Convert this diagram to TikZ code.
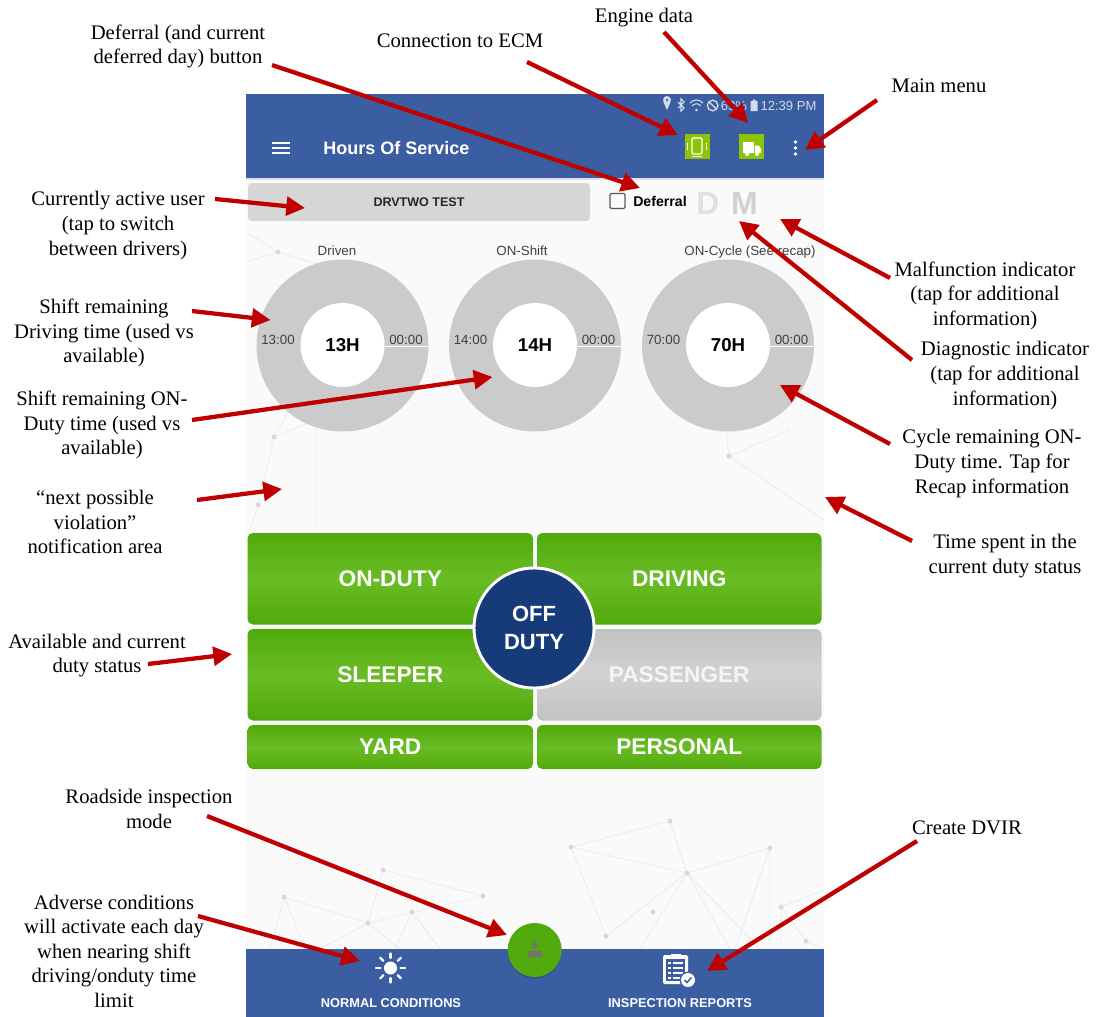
\documentclass[tikz,border=0pt]{standalone}
\usepackage{fontspec}
\setmainfont{Liberation Serif}
\newfontfamily\uifont{Liberation Sans}
\usetikzlibrary{arrows.meta}
\definecolor{barblue}{HTML}{3B5EA3}
\definecolor{navy}{HTML}{173B78}
\definecolor{screenbg}{HTML}{FAFAFA}
\definecolor{arrowred}{HTML}{C00000}
\definecolor{ringgray}{HTML}{CBCBCB}
\definecolor{greenedge}{HTML}{50AA0C}
\definecolor{greenmid}{HTML}{6ABC24}
\definecolor{grayedge}{HTML}{C2C2C2}
\definecolor{graymid}{HTML}{D2D2D2}
\definecolor{iconGreen}{HTML}{8DC408}
\definecolor{netline}{HTML}{E8ECEF}
\definecolor{netdot}{HTML}{D3DBE0}
\definecolor{statustext}{HTML}{D3DAE8}
\newcommand{\pxbox}[7]{% name, x1,y1,x2,y2, style, text
  \node[#6, minimum width={(#4-#2)*0.75pt}, minimum height={(#5-#3)*0.75pt}] (#1) at ({(#2+#4)/2},{(#3+#5)/2}) {#7};}
\tikzset{
  x=0.75pt, y=-0.75pt,
  note/.style={font=\fontsize{15.5}{18.4}\selectfont, align=center, inner sep=0pt, text=black, yshift=-0.75pt},
  callout/.style={draw=arrowred, line width=3.2pt, -{Triangle[length=14pt,width=14pt]}},
  greenbtn/.style={rectangle, rounded corners=4pt, inner sep=0pt, top color=greenedge, bottom color=greenedge, middle color=greenmid, text=white},
  graybtn/.style={rectangle, rounded corners=4pt, inner sep=0pt, top color=grayedge, bottom color=grayedge, middle color=graymid, text=white!92!gray},
  btnfont/.style={font=\uifont\bfseries\fontsize{17}{19}\selectfont},
  ring/.style={circle, fill=ringgray, inner sep=0pt, minimum size=129pt},
  hole/.style={circle, fill=white, inner sep=0pt, minimum size=63pt, font=\uifont\bfseries\fontsize{14}{16}\selectfont},
  gaugetext/.style={inner sep=0pt, text=black!75, font=\uifont\fontsize{10}{12}\selectfont},
  bartext/.style={inner sep=0pt, text=white, font=\uifont\bfseries\fontsize{9.6}{12}\selectfont},
  net/.style={draw=netline, line width=0.6pt},
  netpt/.style={fill=netdot},
  iconsq/.style={rectangle, fill=iconGreen, inner sep=0pt},
}
\begin{document}
\begin{tikzpicture}
\useasboundingbox (0,0) rectangle (1108,1017);
\fill[white] (0,0) rectangle (1108,1017);
% screen
\fill[screenbg] (246,94) rectangle (824,1017);
% faint network background
\draw[net] (571,847)--(670,821)--(687,873)--(571,847)--(606,936) (687,873)--(770,848)--(770,949) (687,873)--(606,936) (687,873)--(640,949) (687,873)--(730,949) (687,873)--(760,949) (770,848)--(735,949) (781,907)--(806,941)--(824,949) (781,907)--(824,890) (781,907)--(781,949);
\draw[net] (383,870)--(483,896)--(368,923)--(284,897)--(270,949) (284,897)--(305,949) (383,870)--(368,923)--(320,949) (368,923)--(400,949) (412,912)--(440,949) (412,912)--(395,949);
\draw[net] (246,262)--(278,252)--(246,232) (278,252)--(330,268) (274,437)--(258,505)--(250,530) (274,437)--(316,420) (316,420)--(316,530) (274,437)--(300,390);
\draw[net] (712,310)--(729,456) (729,456)--(790,430) (729,456)--(824,520) (790,270)--(824,225) (712,310)--(760,360);
\foreach \px/\py in {571/847,670/821,687/873,770/848,606/936,653/912,781/907,806/941,383/870,483/896,284/897,368/923,412/912,278/252,274/437,258/505,729/456,712/310}
  \fill[netpt] (\px,\py) circle[radius=2.5];
% top bar
\fill[barblue] (246,94) rectangle (824,178);
\fill[black!12] (246,178) rectangle (824,180);
% status bar icons
\fill[statustext,even odd rule] (667,100) circle[radius=4] (667,100) circle[radius=1.5];
\fill[statustext] (663.4,102) -- (667,110) -- (670.6,102) -- cycle;
\draw[statustext,line width=0.8pt] (678,102)--(684,108)--(681,111)--(681,99)--(684,102)--(678,108);
\draw[statustext,line width=0.8pt] (690,103) .. controls (694,99) and (699,99) .. (703,103) (692,106) .. controls (695,103) and (698,103) .. (701,106);
\fill[statustext] (696.5,110) circle[radius=1.4];
\draw[statustext,line width=1pt] (712.7,105.5) circle[radius=5.3] (709,102)--(716.5,109);
\node[inner sep=0pt,text=statustext,font=\uifont\fontsize{9.8}{12}\selectfont] (statuspct) at (734,106) {63\%};
\fill[statustext] (750.5,101) rectangle (757.5,111) (752.5,99.5) rectangle (755.5,101);
\node[inner sep=0pt,text=statustext,font=\uifont\fontsize{9.8}{12}\selectfont] (statustime) at (788.5,106) {12:39 PM};
% header
\draw[white,line width=1.5pt] (272,143)--(290,143) (272,148)--(290,148) (272,153)--(290,153);
\node[anchor=west,inner sep=0pt,text=white,font=\uifont\bfseries\fontsize{13.5}{16}\selectfont] (title) at (323,148.5) {Hours Of Service};
\pxbox{ecmicon}{684.5}{134}{709.7}{159}{iconsq}{}
\draw[white,line width=1pt,rounded corners=1pt] (692,138) rectangle (702,154);
\draw[white,line width=0.8pt] (692,156.5)--(702,156.5) (687.5,143)--(687.5,150) (706.5,143)--(706.5,150);
\pxbox{truckicon}{738.7}{134}{764}{159}{iconsq}{}
\fill[white,rounded corners=0.5pt] (743,142) rectangle (754,153) (755,145.5) -- (759,145.5) -- (761,149) -- (761,153) -- (755,153) -- cycle;
\fill[white] (747,154) circle[radius=2] (757,154) circle[radius=2];
\fill[white] (795.5,142) circle[radius=1.9] (795.5,148) circle[radius=1.9] (795.5,154) circle[radius=1.9];
% user row
\pxbox{userbtn}{248}{183}{590}{221}{rectangle,rounded corners=3pt,fill=black!16,inner sep=0pt,text=black!85,font=\uifont\bfseries\fontsize{9.4}{11}\selectfont}{DRVTWO TEST}
\draw[black!65,line width=0.9pt,rounded corners=1pt] (610,193.5) rectangle (625,208.5);
\node[anchor=west,inner sep=0pt,text=black,font=\uifont\bfseries\fontsize{10.6}{12}\selectfont] (deferraltext) at (633,201) {Deferral};
\node[inner sep=0pt,text=black!12,font=\uifont\bfseries\fontsize{24}{26}\selectfont] (dlabel) at (708,203.5) {D};
\node[inner sep=0pt,text=black!18,font=\uifont\bfseries\fontsize{24}{26}\selectfont] (mlabel) at (744.5,203.5) {M};
% gauges
\foreach \nm/\cx/\tx/\title/\left/\big in {a/342.5/337/Driven/13:00/13H,b/535/522/ON-Shift/14:00/14H,c/728/750/{ON-Cycle (See recap)}/70:00/70H}{
  \node[ring] (ring\nm) at (\cx,345.5) {};
  \draw[white,line width=0.5pt] (\cx+42,346.5)--(\cx+87,346.5);
  \node[hole] (hole\nm) at (\cx,345) {\big};
  \node[gaugetext,anchor=base] (title\nm) at (\tx,255) {\title};
  \node[gaugetext] (left\nm) at (\cx-64.5,340) {\left};
  \node[gaugetext] (right\nm) at (\cx+63.5,340) {00:00};
}
% duty buttons
\pxbox{onduty}{247.5}{533}{533}{624.5}{greenbtn,btnfont}{ON-DUTY}
\pxbox{driving}{537}{533}{821.5}{624.5}{greenbtn,btnfont}{DRIVING}
\pxbox{sleeper}{247.5}{629}{533}{720.5}{greenbtn,btnfont}{SLEEPER}
\pxbox{passenger}{537}{629}{821.5}{720.5}{graybtn,btnfont}{PASSENGER}
\pxbox{yard}{247.5}{725}{533}{769}{greenbtn,btnfont}{YARD}
\pxbox{personal}{537}{725}{821.5}{769}{greenbtn,btnfont}{PERSONAL}
\node[circle,fill=navy,draw=white,line width=2.2pt,inner sep=0pt,minimum size=90pt,text=white,align=center,font=\uifont\bfseries\fontsize{16.5}{21}\selectfont] (offduty) at (534,628) {OFF\\DUTY};
% bottom bar
\fill[barblue] (246,949) rectangle (824,1017);
\fill[black,opacity=.12] (534.7,952) circle[radius=27];
\node[circle,fill=greenedge,inner sep=0pt,minimum size=40.5pt] (roadside) at (534.7,950) {};
\fill[black!55] (534.7,945) ellipse[x radius=2.5,y radius=4];
\fill[black!55] (528,951) rectangle (541.5,957);
% sun
\fill[white] (390.5,968) circle[radius=6.5];
\foreach \ang in {0,45,...,315}
  \draw[white,line width=1.6pt,line cap=round] (390.5,968) ++(\ang:10) -- ++(\ang:4.5);
\node[bartext] (normal) at (391,1003) {NORMAL CONDITIONS};
% clipboard
\fill[white,rounded corners=1.5pt] (663,955) rectangle (688,984);
\fill[barblue] (666,959) rectangle (685,981);
\fill[white] (671,953.5) rectangle (681,958);
\foreach \ly in {963,968,973,978}{
  \draw[white,line width=0.8pt] (668,\ly)--(670.5,\ly) (672.5,\ly)--(683,\ly);
}
\fill[barblue] (688,980) circle[radius=8.5];
\fill[white] (688,980) circle[radius=7];
\draw[barblue,line width=1.1pt] (684.5,980)--(687,982.5)--(691.5,977.5);
\node[bartext] (reports) at (680,1003) {INSPECTION REPORTS};
% annotation texts
\node[note] (tdef) at (178,45.5) {Deferral (and current\\deferred day) button};
\node[note] (tecm) at (460,40) {Connection to ECM};
\node[note] (teng) at (644,17) {Engine data};
\node[note] (tmenu) at (939,85) {Main menu};
\node[note] (tuser) at (118,224.5) {Currently active user\\(tap to switch\\between drivers)};
\node[note] (tdrv) at (104,332) {Shift remaining\\Driving time (used vs\\available)};
\node[note] (tshift) at (102,424) {Shift remaining ON-\\Duty time (used vs\\available)};
\node[note] (tnext) at (95,521) {“next possible\\violation”\\notification area};
\node[note] (tavail) at (97,654.5) {Available and current\\duty status};
\node[note] (troad) at (149,808) {Roadside inspection\\mode};
\node[note] (tadv) at (114,950) {Adverse conditions\\will activate each day\\when nearing shift\\driving/onduty time\\limit};
\node[note] (tdvir) at (967,827) {Create DVIR};
\node[note] (ttime) at (1005,555) {Time spent in the\\current duty status};
\node[note] (tcycle) at (992,462.5) {Cycle remaining ON-\\Duty time. Tap for\\Recap information};
\node[note] (tdiag) at (1005,374.5) {Diagnostic indicator\\(tap for additional\\information)};
\node[note] (tmal) at (985,294.5) {Malfunction indicator\\(tap for additional\\information)};
% arrow ends
\coordinate (sdef) at (272,65);   \coordinate (edef) at (640,188);
\coordinate (secm) at (527,62);   \coordinate (eecm) at (678,135);
\coordinate (seng) at (664,32);   \coordinate (eeng) at (748,123);
\coordinate (smenu) at (877,100); \coordinate (emenu) at (805,150);
\coordinate (suser) at (215,199); \coordinate (euser) at (305,208);
\coordinate (sdrv) at (192,311);  \coordinate (edrv) at (270.5,320);
\coordinate (sshift) at (192,420);\coordinate (eshift) at (492.5,377);
\coordinate (snext) at (197,500); \coordinate (enext) at (282,489);
\coordinate (savail) at (148,664);\coordinate (eavail) at (232,654);
\coordinate (sroad) at (207,816); \coordinate (eroad) at (507,935);
\coordinate (sadv) at (198,916);  \coordinate (eadv) at (360,961);
\coordinate (sdvir) at (917,841); \coordinate (edvir) at (707,971);
\coordinate (stime) at (912,541); \coordinate (etime) at (825,497);
\coordinate (scycle) at (890,444);\coordinate (ecycle) at (780,385);
\coordinate (sdiag) at (912,360); \coordinate (ediag) at (739,221);
\coordinate (smal) at (890,278);  \coordinate (emal) at (780,219);
\foreach \nm in {def,ecm,eng,menu,user,drv,shift,next,avail,road,adv,dvir,time,cycle,diag,mal}
  \draw[callout] (s\nm) -- (e\nm);
\end{tikzpicture}
\end{document}
